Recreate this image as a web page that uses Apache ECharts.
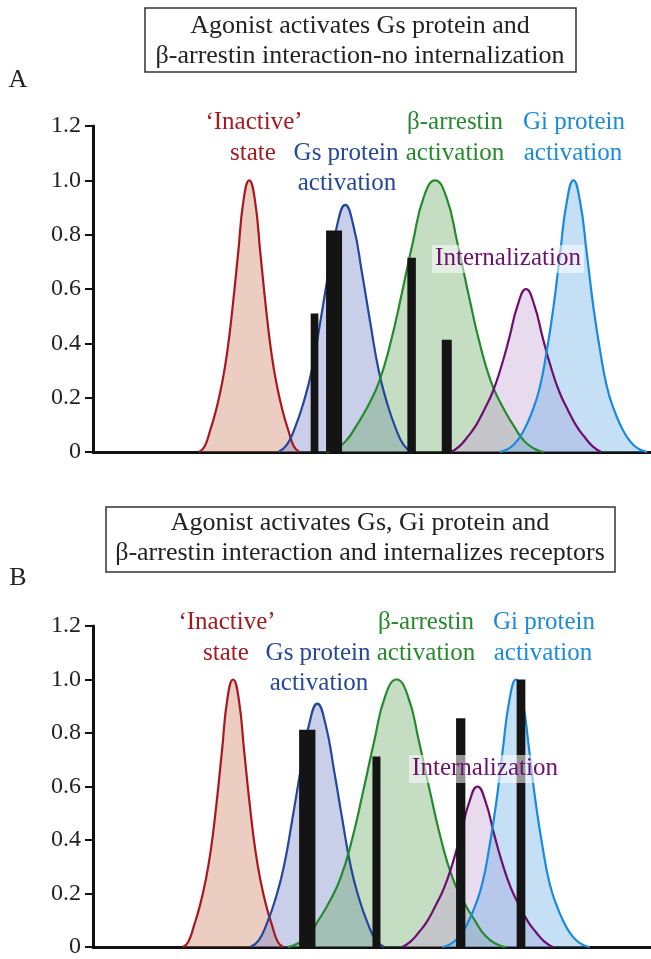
<!DOCTYPE html>
<html>
<head>
<meta charset="utf-8">
<script src="https://cdn.jsdelivr.net/npm/echarts@6/dist/echarts.min.js"></script>
<style>
  html, body { margin: 0; padding: 0; background: #fff; }
  #chart { width: 651px; height: 959px; }
</style>
</head>
<body>
<div id="chart"></div>
<script>
// curve profiles: distance from the peak (x units) and height
const inactiveDx = [0, 1, 2, 3, 4, 5, 6, 7, 8, 9];
const inactiveY = [1, 0.93, 0.73, 0.53, 0.36, 0.24, 0.15, 0.08, 0.02, 0];
const gsDx = [0, 1.5, 3, 4.5, 6, 7.5, 9, 10.5, 12];
const gsY = [0.91, 0.83, 0.66, 0.475, 0.3, 0.18, 0.09, 0.025, 0];
const arrDx = [0, 2, 4, 6, 8, 10, 12, 14, 16, 18, 19.5];
const arrY = [1, 0.94, 0.77, 0.58, 0.4, 0.26, 0.17, 0.1, 0.04, 0.01, 0];
const internDx = [0, 1.5, 3, 4.5, 6, 7.5, 9, 10.5, 12, 13.5];
const internY = [0.6, 0.54, 0.42, 0.31, 0.22, 0.155, 0.097, 0.055, 0.02, 0];
const giDx = [0, 1.2, 2.4, 3.6, 4.8, 6, 7.2, 8.4, 9.6, 10.8, 12, 13.2];
const giY = [1, 0.92, 0.73, 0.53, 0.37, 0.24, 0.16, 0.1, 0.055, 0.025, 0.008, 0];

// peak positions (x units 0-100)
const peaksA = { inactive: 28.0, gs: 45.2, arr: 61.3, intern: 77.6, gi: 86.1 };
const peaksB = { inactive: 25.1, gs: 40.2, arr: 54.4, intern: 68.9, gi: 75.8 };

// black bars: [x, height]
const barsA = [[39.7, 0.51], [43.2, 0.815], [57.1, 0.715], [63.4, 0.413]];
const barsB = [[38.4, 0.812], [50.8, 0.712], [65.9, 0.855], [76.7, 1.0]];

const yTicks = ['0', '0.2', '0.4', '0.6', '0.8', '1.0', '1.2'];

const serif = '"Liberation Serif", "DejaVu Serif", serif';
const barWidthsA = [7.7, 16, 8.5, 10];
const barWidthsB = [16.3, 8, 9.3, 8.7];

const profiles = {
  inactive: [inactiveDx, inactiveY],
  gs: [gsDx, gsY],
  arr: [arrDx, arrY],
  intern: [internDx, internY],
  gi: [giDx, giY]
};

const colors = {
  inactive: ['#a8181e', 'rgba(205,130,100,0.4)'],
  gs: ['#23479d', 'rgba(120,135,200,0.4)'],
  arr: ['#258a2c', 'rgba(110,170,105,0.4)'],
  intern: ['#6e0e6e', 'rgba(195,165,210,0.4)'],
  gi: ['#1a8bdc', 'rgba(110,175,230,0.4)']
};

// mirror the half profile round its peak
function curveData(center, dx, ys) {
  const left = dx.slice(1).reverse().map((d, i) => [center - d, ys[dx.length - 1 - i]]);
  const right = dx.map((d, i) => [center + d, ys[i]]);
  return left.concat(right);
}

function curve(key, peaks, idx) {
  const p = profiles[key];
  return {
    type: 'line',
    xAxisIndex: idx, yAxisIndex: idx,
    data: curveData(peaks[key], p[0], p[1]),
    smooth: 0.5,
    symbol: 'none',
    lineStyle: { color: colors[key][0], width: 2.2 },
    areaStyle: { color: colors[key][1], opacity: 1 },
    z: 2
  };
}

function bars(data, widths, idx) {
  return {
    type: 'custom',
    xAxisIndex: idx, yAxisIndex: idx,
    data: data,
    z: 5,
    renderItem: function (params, api) {
      const p0 = api.coord([api.value(0), 0]);
      const p1 = api.coord([api.value(0), api.value(1)]);
      const w = widths[params.dataIndex];
      return {
        type: 'rect',
        shape: { x: p0[0] - w / 2, y: p1[1], width: w, height: p0[1] - p1[1] },
        style: { fill: '#141414' }
      };
    }
  };
}

function xAx(idx) {
  return {
    type: 'value', gridIndex: idx, min: 0, max: 100,
    axisLine: { show: true, lineStyle: { color: '#111', width: 3 } },
    axisTick: { show: false }, axisLabel: { show: false }, splitLine: { show: false }
  };
}
function yAx(idx) {
  return {
    type: 'value', gridIndex: idx, min: 0, max: 1.2, interval: 0.2,
    axisLine: { show: true, lineStyle: { color: '#111', width: 3 } },
    axisTick: { show: true, length: 8, lineStyle: { color: '#111', width: 2 } },
    axisLabel: {
      fontFamily: serif, fontSize: 24, color: '#222', margin: 12,
      formatter: v => yTicks[Math.round(v / 0.2)]
    },
    splitLine: { show: false }
  };
}

function label(text, x, y, color, size) {
  return {
    type: 'text', x: x, y: y, z: 100,
    style: { text: text, fill: color, font: (size || 25) + 'px ' + serif, align: 'center', verticalAlign: 'middle', textAlign: 'center', textVerticalAlign: 'middle' }
  };
}
function box(x, y, w, h, fill, stroke) {
  return {
    type: 'rect', z: 99,
    shape: { x: x, y: y, width: w, height: h },
    style: { fill: fill, stroke: stroke || null, lineWidth: 1.5 }
  };
}

function panelLabels(dy, dx, internX, internY) {
  return [
    label('\u2018Inactive\u2019', 254 + dx.red, 122 + dy, colors.inactive[0]),
    label('state', 253 + dx.red, 153 + dy, colors.inactive[0]),
    label('Gs protein', 346 + dx.gs, 153 + dy, colors.gs[0]),
    label('activation', 347 + dx.gs, 183 + dy, colors.gs[0]),
    label('\u03b2-arrestin', 455 + dx.arr, 122 + dy, colors.arr[0]),
    label('activation', 455 + dx.arr, 153 + dy, colors.arr[0]),
    label('Gi protein', 574 + dx.gi, 122 + dy, colors.gi[0]),
    label('activation', 573 + dx.gi, 153 + dy, colors.gi[0]),
    box(internX - 76, internY - 13, 152, 28, 'rgba(255,255,255,0.55)'),
    label('Internalization', internX, internY, colors.intern[0])
  ];
}

const chart = echarts.init(document.getElementById('chart'), null, { renderer: 'canvas' });
chart.setOption({
  animation: false,
  grid: [
    { left: 93, right: 0, top: 126, height: 326 },
    { left: 93, right: 0, top: 626, height: 326 }
  ],
  xAxis: [xAx(0), xAx(1)],
  yAxis: [yAx(0), yAx(1)],
  series: [
    curve('inactive', peaksA, 0),
    curve('gs', peaksA, 0),
    curve('arr', peaksA, 0),
    curve('intern', peaksA, 0),
    curve('gi', peaksA, 0),
    bars(barsA, barWidthsA, 0),
    curve('inactive', peaksB, 1),
    curve('gs', peaksB, 1),
    curve('arr', peaksB, 1),
    curve('intern', peaksB, 1),
    curve('gi', peaksB, 1),
    bars(barsB, barWidthsB, 1)
  ],
  graphic: [
    box(145, 8, 431, 64, '#fff', '#333'),
    label('Agonist activates Gs protein and', 360, 26, '#222', 26),
    label('\u03b2-arrestin interaction-no internalization', 360, 56, '#222', 26),
    label('A', 18, 80, '#222', 26),
    box(106, 507, 509, 65, '#fff', '#333'),
    label('Agonist activates Gs, Gi protein and', 360, 523, '#222', 26),
    label('\u03b2-arrestin interaction and internalizes receptors', 360, 553, '#222', 26),
    label('B', 18, 578, '#222', 26)
  ].concat(
    panelLabels(0, { red: 0, gs: 0, arr: 0, gi: 0 }, 508, 258),
    panelLabels(500, { red: -27, gs: -28, arr: -29, gi: -30 }, 485, 768)
  )
});
</script>
</body>
</html>
